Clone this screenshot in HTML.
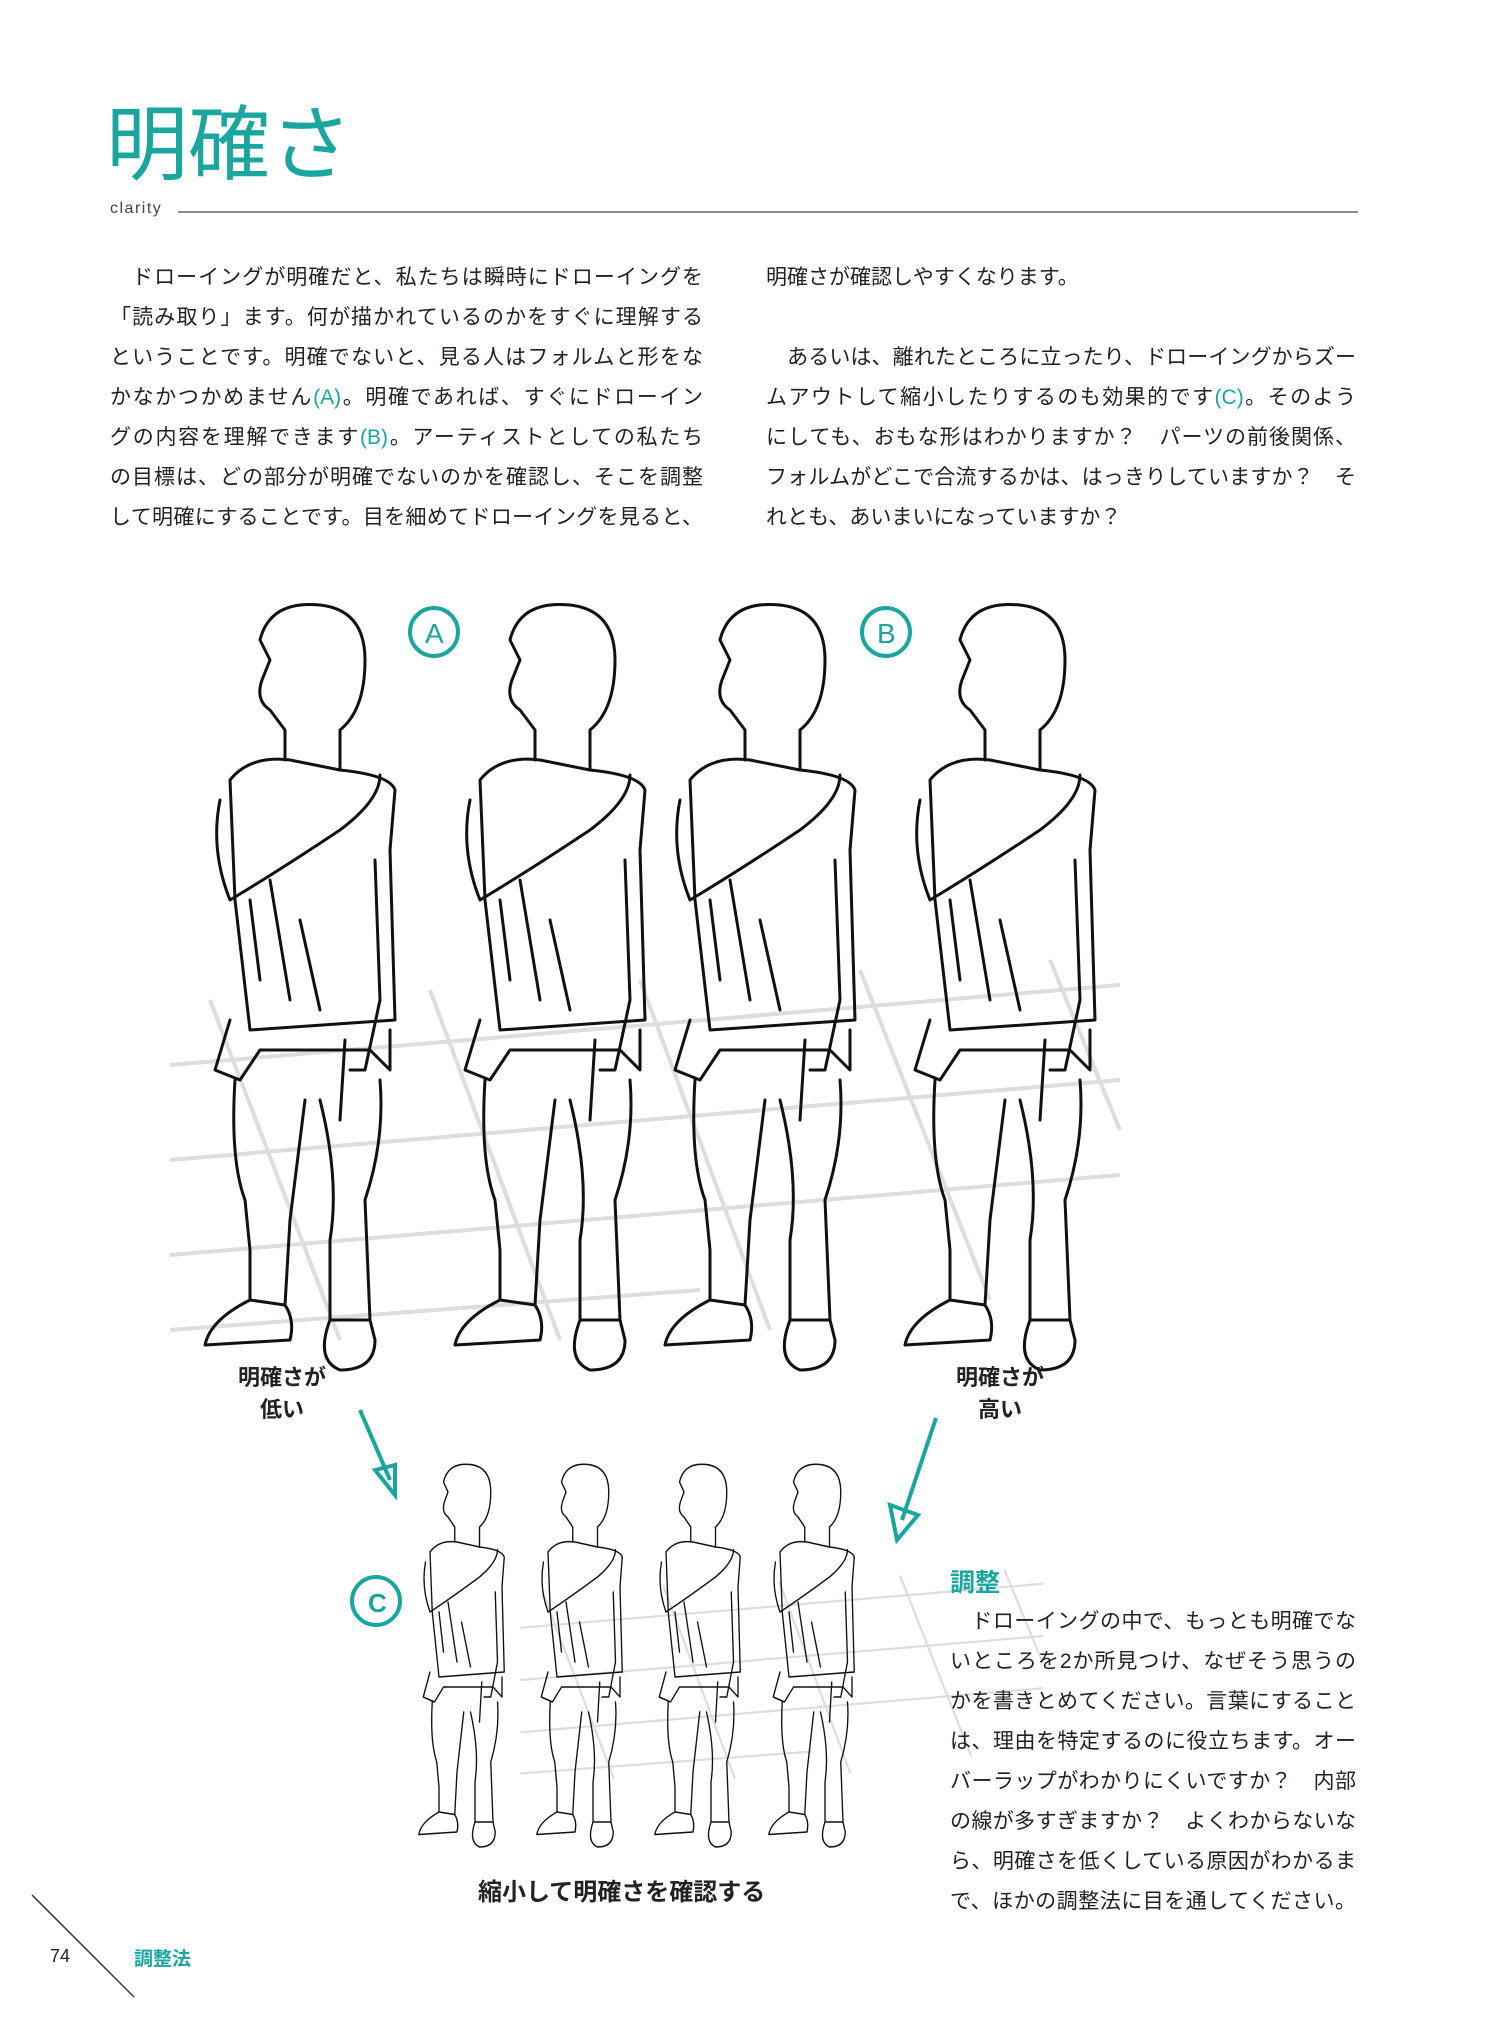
<!DOCTYPE html>
<html><head><meta charset="utf-8"><style>
html,body{margin:0;padding:0;background:#fff;}
body{width:1500px;height:2029px;position:relative;overflow:hidden;font-family:"Liberation Sans","Noto Sans CJK JP",sans-serif;color:#222;}
.t{position:absolute;white-space:nowrap;}
.p{position:absolute;font-size:21px;line-height:40px;color:#231f20;}
.p div{height:40px;text-align:justify;text-align-last:justify;white-space:nowrap;overflow:visible;}
.p div.l{text-align-last:left;}
.teal{color:#1aa59e;}
</style></head><body>
<div class="t teal" style="left:106px;top:96px;font-size:82px;line-height:100px;">明確さ</div>
<div class="t" style="left:110px;top:200px;font-size:16px;letter-spacing:1.5px;color:#444;">clarity</div>
<div style="position:absolute;left:178px;top:211px;width:1180px;height:2px;background:#888;"></div>

<div class="p" style="left:110px;top:258px;width:593px;">
<div>　ドローイングが明確だと、私たちは瞬時にドローイングを</div>
<div>「読み取り」ます。何が描かれているのかをすぐに理解する</div>
<div>ということです。明確でないと、見る人はフォルムと形をな</div>
<div>かなかつかめません<span class="teal">(A)</span>。明確であれば、すぐにドローイン</div>
<div>グの内容を理解できます<span class="teal">(B)</span>。アーティストとしての私たち</div>
<div>の目標は、どの部分が明確でないのかを確認し、そこを調整</div>
<div>して明確にすることです。目を細めてドローイングを見ると、</div>
</div>
<div class="p" style="left:766px;top:258px;width:590px;">
<div class="l">明確さが確認しやすくなります。</div>
<div class="l"></div>
<div>　あるいは、離れたところに立ったり、ドローイングからズー</div>
<div>ムアウトして縮小したりするのも効果的です<span class="teal">(C)</span>。そのよう</div>
<div>にしても、おもな形はわかりますか？　パーツの前後関係、</div>
<div>フォルムがどこで合流するかは、はっきりしていますか？　そ</div>
<div class="l">れとも、あいまいになっていますか？</div>
</div>

<svg style="position:absolute;left:0;top:0" width="1500" height="2029">
<defs>
<g id="fig" fill="none" stroke="#111" stroke-width="3" stroke-linejoin="round" stroke-linecap="round">
 <path d="M70 40 Q80 0 130 5 Q175 10 175 60 Q175 110 150 130 L150 170 M70 40 L80 60 L72 80 Q65 100 80 110 L95 130 L95 160"/>
 <path d="M40 180 Q60 155 100 160 L150 170 Q200 175 205 190 L200 250 L205 420 L60 430 L45 300 Z"/>
 <path d="M30 200 Q20 250 40 300 Q90 270 150 230 Q190 200 190 175 M185 260 L190 400 L175 470 L160 470"/>
 <path d="M40 420 L25 470 L50 480 L70 450 L180 450 L200 470 L200 430"/>
 <path d="M45 480 Q40 560 55 600 L60 650 L60 700 L95 705 L100 620 L115 500 M130 500 Q150 580 140 640 L140 720 L180 720 L175 600 Q195 540 190 480"/>
 <path d="M60 700 Q20 720 15 745 L100 740 Q105 720 95 705"/>
 <path d="M140 720 Q125 760 150 770 Q185 770 185 740 L180 720"/>
 <path d="M60 300 L70 380 M80 280 L100 400 M110 320 L130 410 M155 440 L150 520"/>
</g>
<g id="grid" stroke="#ddd" stroke-width="4" fill="none">
 <path d="M170 1065 L1120 985 M170 1160 L1120 1080 M170 1255 L1120 1175 M170 1330 L700 1290"/>
 <path d="M210 1000 L340 1340 M430 990 L560 1340 M640 980 L770 1330 M860 970 L990 1300 M1050 960 L1120 1130"/>
</g>
</defs>
<use href="#grid"/>
<use href="#fig" transform="translate(190,600)"/>
<use href="#fig" transform="translate(440,600)"/>
<use href="#fig" transform="translate(650,600)"/>
<use href="#fig" transform="translate(890,600)"/>
<g fill="none" stroke="#1aa59e" stroke-width="4">
 <circle cx="434" cy="632" r="24"/><circle cx="886" cy="632" r="24"/><circle cx="376" cy="1601" r="24"/>
 <path d="M360 1410 L390 1480 M375 1470 L395 1495 L395 1465 Z"/>
 <path d="M936 1418 L902 1520 M890 1505 L897 1540 L918 1515 Z"/>
</g>
<g transform="translate(427,1042) scale(0.55)"><use href="#grid"/></g>
<use href="#fig" transform="translate(412,1462) scale(0.45,0.5)"/>
<use href="#fig" transform="translate(530,1462) scale(0.45,0.5)"/>
<use href="#fig" transform="translate(648,1462) scale(0.45,0.5)"/>
<use href="#fig" transform="translate(762,1462) scale(0.45,0.5)"/>
<text x="368" y="1612" font-size="26" fill="#1aa59e" font-family="Liberation Sans" font-weight="bold">C</text>
<text x="425" y="643" font-size="28" fill="#1aa59e" font-family="Liberation Sans">A</text>
<text x="877" y="643" font-size="28" fill="#1aa59e" font-family="Liberation Sans">B</text>
<line x1="32" y1="1895" x2="134" y2="1997" stroke="#333" stroke-width="1.5"/>
</svg>

<div class="t" style="left:232px;top:1362px;font-size:22px;font-weight:bold;line-height:32px;text-align:center;width:100px;">明確さが<br>低い</div>
<div class="t" style="left:950px;top:1362px;font-size:22px;font-weight:bold;line-height:32px;text-align:center;width:100px;">明確さが<br>高い</div>
<div class="t" style="left:478px;top:1872px;font-size:24px;font-weight:bold;">縮小して明確さを確認する</div>
<div class="t teal" style="left:950px;top:1563px;font-size:25px;font-weight:bold;">調整</div>
<div class="p" style="left:950px;top:1602px;width:406px;">
<div>　ドローイングの中で、もっとも明確でな</div>
<div>いところを2か所見つけ、なぜそう思うの</div>
<div>かを書きとめてください。言葉にすること</div>
<div>は、理由を特定するのに役立ちます。オー</div>
<div>バーラップがわかりにくいですか？　内部</div>
<div>の線が多すぎますか？　よくわからないな</div>
<div>ら、明確さを低くしている原因がわかるま</div>
<div>で、ほかの調整法に目を通してください。</div>
</div>
<div class="t" style="left:50px;top:1946px;font-size:18px;">74</div>
<div class="t teal" style="left:134px;top:1944px;font-size:19px;font-weight:bold;">調整法</div>
</body></html>
